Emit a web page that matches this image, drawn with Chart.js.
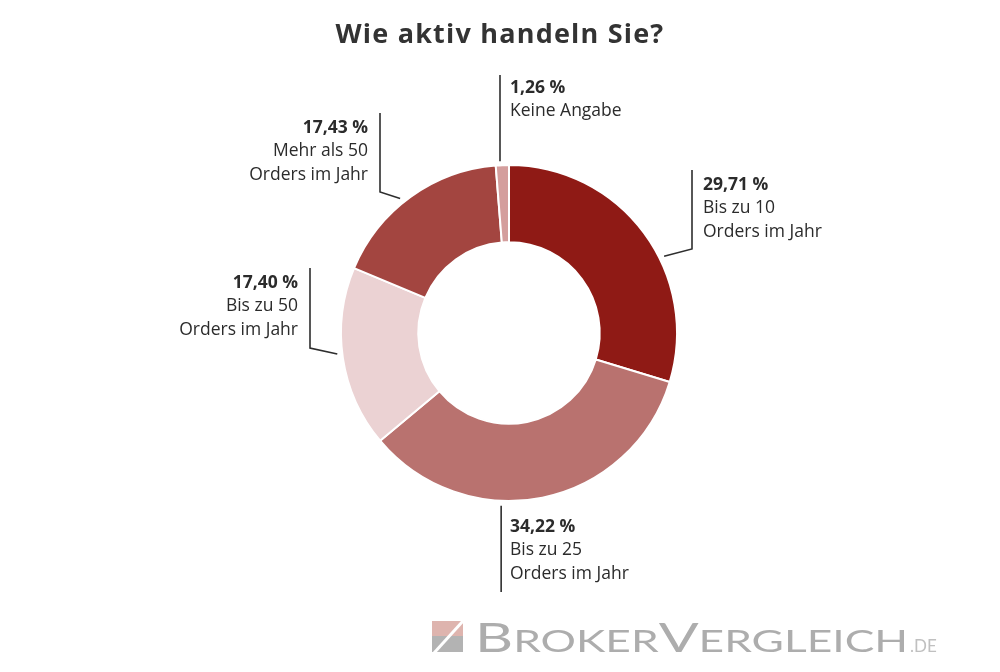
<!DOCTYPE html>
<html>
<head>
<meta charset="utf-8">
<script src="https://cdn.jsdelivr.net/npm/chart.js@4/dist/chart.umd.min.js"></script>
<style>
  html, body { margin: 0; padding: 0; background: #ffffff; }
  #wrap { position: relative; width: 1000px; height: 672px; }
  #title { position: absolute; left: 0; top: 13px; width: 1000px; text-align: center;
           font-family: "Open Sans", sans-serif; font-weight: 700; font-size: 27px; letter-spacing: 1.2px;
           color: #333333; line-height: 40px; }
  canvas { position: absolute; left: 0; top: 0; }
</style>
</head>
<body>
<div id="wrap">
  <canvas id="c" width="1000" height="672"></canvas>
  <div id="title">Wie aktiv handeln Sie?</div>
</div>
<script>
// ---- data ----
const categories = ['Bis zu 10 Orders im Jahr', 'Bis zu 25 Orders im Jahr', 'Bis zu 50 Orders im Jahr', 'Mehr als 50 Orders im Jahr', 'Keine Angabe'];
const labelLines = [['Bis zu 10', 'Orders im Jahr'], ['Bis zu 25', 'Orders im Jahr'], ['Bis zu 50', 'Orders im Jahr'], ['Mehr als 50', 'Orders im Jahr'], ['Keine Angabe']];
const values = [29.71, 34.22, 17.40, 17.43, 1.26];
const colors = ['#8f1a15', '#b9726f', '#ebd2d3', '#a34540', '#d49e9d'];

// leader-line layout (angle in degrees clockwise from top; offsets relative to centre)
const leaderLayout = [
  { angle: 63.7, gap: 5, elbow: [183, -84], vEnd: -163, align: 'left', tx: 194, ty: -148 },
  { angle: 182.6, gap: 5, elbow: null, vEnd: 259, align: 'left', tx: 1, ty: 194 },
  { angle: 263, gap: 5, elbow: [-199, 15], vEnd: -65, align: 'right', tx: -211, ty: -50 },
  { angle: 321, gap: 5, elbow: [-129, -141], vEnd: -220, align: 'right', tx: -141, ty: -205 },
  { angle: 357, gap: 4, elbow: null, vEnd: -258, align: 'left', tx: 1, ty: -245 }
];

function fmtPct(v) { return v.toFixed(2).replace('.', ',') + ' %'; }

const leaderPlugin = {
  id: 'leaders',
  afterDatasetsDraw(chart) {
    const ctx = chart.ctx;
    const meta = chart.getDatasetMeta(0);
    ctx.save();
    meta.data.forEach((arc, i) => {
      const L = leaderLayout[i];
      const cx = arc.x, cy = arc.y, r = arc.outerRadius;
      const a = L.angle * Math.PI / 180;
      const sx = cx + (r + L.gap) * Math.sin(a);
      const sy = cy - (r + L.gap) * Math.cos(a);
      const ex = L.elbow ? cx + L.elbow[0] : sx;
      const ey = L.elbow ? cy + L.elbow[1] : sy;
      ctx.strokeStyle = '#2e2e2e';
      ctx.lineWidth = 1.6;
      ctx.beginPath();
      ctx.moveTo(sx, sy);
      ctx.lineTo(ex, ey);
      ctx.lineTo(ex, cy + L.vEnd);
      ctx.stroke();
      // text
      ctx.fillStyle = '#2b2b2b';
      ctx.textAlign = L.align;
      ctx.textBaseline = 'middle';
      const x = cx + L.tx;
      let y = cy + L.ty;
      ctx.font = '700 17.5px "Open Sans", sans-serif';
      ctx.fillText(fmtPct(values[i]), x, y);
      ctx.font = '400 17.5px "Open Sans", sans-serif';
      labelLines[i].forEach(line => { y += 23.5; ctx.fillText(line, x, y); });
    });
    ctx.restore();
  }
};

const logoPlugin = {
  id: 'logo',
  afterDraw(chart) {
    const ctx = chart.ctx;
    ctx.save();
    // icon
    ctx.fillStyle = '#deb4ae';
    ctx.fillRect(432, 621, 31, 15);
    ctx.fillStyle = '#b3b3b3';
    ctx.fillRect(432, 636, 31, 16);
    ctx.strokeStyle = '#ffffff';
    ctx.lineWidth = 3;
    ctx.beginPath();
    ctx.moveTo(434, 653);
    ctx.lineTo(463, 621);
    ctx.stroke();
    // text
    const parts = [['B', 40], ['ROKER', 30], ['V', 40], ['ERGLEICH', 30]];
    const fam = '"Lato", sans-serif';
    let total = 0;
    parts.forEach(p => { ctx.font = '400 ' + p[1] + 'px ' + fam; total += ctx.measureText(p[0]).width; });
    const target = 433;
    const sc = target / total;
    ctx.fillStyle = '#adadad';
    ctx.textBaseline = 'alphabetic';
    ctx.textAlign = 'left';
    ctx.translate(475, 652);
    ctx.scale(sc, 1);
    let x = 0;
    parts.forEach(p => { ctx.font = '400 ' + p[1] + 'px ' + fam; ctx.fillText(p[0], x, 0); x += ctx.measureText(p[0]).width; });
    ctx.setTransform(1, 0, 0, 1, 0, 0);
    ctx.font = '400 17px ' + fam;
    ctx.fillStyle = '#c0c0c0';
    ctx.fillText('.DE', 910, 652);
    ctx.restore();
  }
};

new Chart(document.getElementById('c'), {
  type: 'doughnut',
  data: {
    labels: categories,
    datasets: [{
      data: values,
      backgroundColor: colors,
      borderColor: '#ffffff',
      borderWidth: 2
    }]
  },
  options: {
    responsive: false,
    animation: false,
    cutout: '54%',
    layout: { padding: { left: 340, right: 322, top: 164, bottom: 170 } },
    plugins: { legend: { display: false }, tooltip: { enabled: false } },
    events: []
  },
  plugins: [leaderPlugin, logoPlugin]
});
</script>
</body>
</html>
